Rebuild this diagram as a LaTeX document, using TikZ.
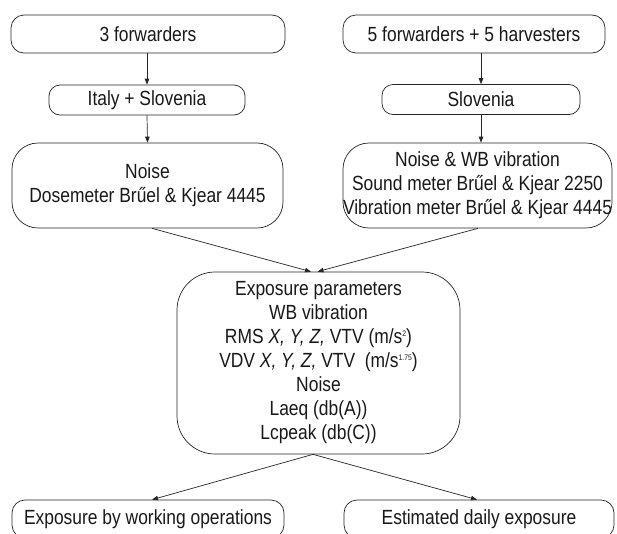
\documentclass[tikz,border=0pt]{standalone}
\usepackage{fontspec}
\setmainfont{Liberation Sans}[FakeStretch=0.85]
\usetikzlibrary{arrows.meta}
\newcommand\mysup[1]{\raisebox{7.5pt}{\fontsize{8}{8}\selectfont #1}}
\begin{document}
\begin{tikzpicture}[x=1pt,y=-1pt,
  box/.style={draw=black!85, line width=0.7pt, align=center, inner sep=0pt,
    font=\fontsize{20.5}{24}\selectfont, text=black!90},
  small/.style={box, rounded corners=13pt, minimum height=38pt},
  tiny/.style={box, rounded corners=11pt, minimum height=30pt},
  mid/.style={box, rounded corners=26pt, minimum height=85pt},
  big/.style={box, rounded corners=38pt, minimum height=182pt, minimum width=283pt},
  arr/.style={draw=black!85, line width=0.7pt, -{Triangle[length=6pt,width=4.5pt]}}]
\useasboundingbox (0,0) rectangle (617,533);
\clip (0,0) rectangle (617,533);
\fill[white] (0,0) rectangle (617,533);
% left column
\node[small, minimum width=274pt] (b1) at (148,34) {3 forwarders};
\node[tiny, minimum width=196pt] (b2) at (147,100) {Italy + Slovenia};
\node[mid, minimum width=271pt] (b3) at (147.5,185.5) {Noise\\Dosemeter Brűel \& Kjear 4445};
% right column
\node[small, minimum width=262pt] (r1) at (474,34) {5 forwarders + 5 harvesters};
\node[tiny, minimum width=198pt] (r2) at (481,99.5) {Slovenia};
\node[mid, minimum width=269pt] (r3) at (477.5,185.5) {Noise \& WB vibration\\Sound meter Brűel \& Kjear 2250\\Vibration meter Brűel \& Kjear 4445};
% centre
\node[big] (c) at (318.5,363) {Exposure parameters\\WB vibration\\RMS \textit{X, Y, Z,} VTV (m/s\mysup{2})\\VDV \textit{X, Y, Z,} VTV\ \ (m/s\mysup{1.75})\\Noise\\Laeq (db(A))\\Lcpeak (db(C))};
% bottom
\node[small, minimum width=272pt] (d1) at (148,519) {Exposure by working operations};
\node[small, minimum width=270pt] (d2) at (479,519) {Estimated daily exposure};
% connectors
\draw[arr] ([xshift=-1pt]b1.south) -- (b2.north);
\draw[arr] (b2.south) -- (b3.north);
\draw[arr] ([xshift=7pt]r1.south) -- (r2.north);
\draw[arr] (r2.south) -- ([xshift=3.5pt]r3.north);
\draw[arr] ([xshift=4.5pt]b3.south) -- ([xshift=-7.5pt]c.north);
\draw[arr] ([xshift=0.5pt]r3.south) -- ([xshift=-1pt]c.north);
\draw[arr] ([xshift=-5.5pt]c.south) -- ([xshift=4pt]d1.north);
\draw[arr] ([xshift=-5.5pt]c.south) -- ([xshift=-2pt]d2.north);
\end{tikzpicture}
\end{document}
